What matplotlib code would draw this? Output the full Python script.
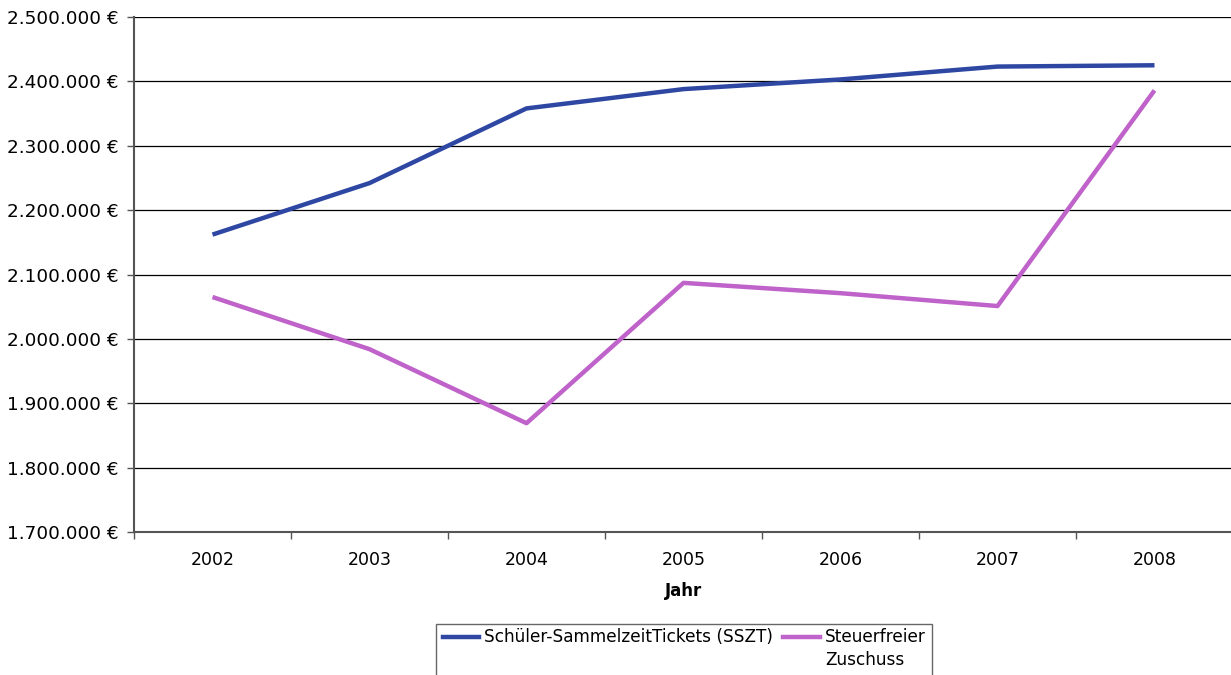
import matplotlib
matplotlib.use("Agg")
import matplotlib.pyplot as plt
from matplotlib.ticker import FuncFormatter, FixedLocator
from matplotlib.patches import Rectangle
from matplotlib.lines import Line2D

# -- Data ---------------------------------------------------------------------
years = ["2002", "2003", "2004", "2005", "2006", "2007", "2008"]
sszt = [2162000, 2242000, 2358000, 2388000, 2403000, 2423000, 2425000]
zuschuss = [2065000, 1984000, 1869000, 2087000, 2071000, 2051000, 2386000]
series_labels = ["Schüler-SammelzeitTickets (SSZT)", "Steuerfreier\nZuschuss"]

BLUE = "#2E47A3"
PINK = "#BF62C9"
W, H = 1231, 675

plt.rcParams["font.family"] = ["DejaVu Sans"]

fig = plt.figure(figsize=(W / 100, H / 100), dpi=100)
ax = fig.add_axes([134 / W, 1 - 532 / H, 1099 / W, 515 / H])

x = list(range(len(years)))
ax.plot(x, sszt, color=BLUE, lw=3.2, solid_capstyle="butt")
ax.plot(x, zuschuss, color=PINK, lw=3.2, solid_capstyle="butt")

ax.set_xlim(-0.5, len(years) - 0.5)
ax.set_ylim(1700000, 2500000)
ax.set_yticks(range(1700000, 2500001, 100000))
ax.yaxis.set_major_formatter(FuncFormatter(lambda v, p: f"{int(v):,} €".replace(",", ".")))

# category labels at centres, tick marks at boundaries
ax.set_xticks(x)
ax.set_xticklabels(years)
ax.tick_params(axis="x", which="major", length=0, pad=14, labelsize=12.5)
ax.xaxis.set_minor_locator(FixedLocator([i - 0.5 for i in range(len(years) + 1)]))
ax.tick_params(axis="x", which="minor", length=5, width=1, color="#555555")
ax.tick_params(axis="y", length=5, width=1, color="#555555", labelsize=13.2, pad=6)

ax.grid(axis="y", color="black", lw=0.9)
ax.set_axisbelow(True)
for side in ["top", "right"]:
    ax.spines[side].set_visible(False)
for side in ["left", "bottom"]:
    ax.spines[side].set_color("#555555")
    ax.spines[side].set_linewidth(1.5)

ax.set_xlabel("Jahr", fontsize=12, fontweight="bold", labelpad=9)

# -- Legend (drawn by hand so the handles line up with the first text line) --
def fx(px):
    return px / W

def fy(py):
    return 1 - py / H

fig.patches.append(Rectangle((fx(436), fy(676)), fx(932) - fx(436), fy(624) - fy(676),
                             transform=fig.transFigure, facecolor="white",
                             edgecolor="#666666", lw=1.0))
entries = [(series_labels[0], BLUE, 443, 479, 484),
           (series_labels[1], PINK, 783, 820, 825)]
for label, color, x0, x1, tx in entries:
    fig.lines.append(Line2D([fx(x0), fx(x1)], [fy(637), fy(637)],
                            transform=fig.transFigure, color=color, lw=3.2))
    fig.text(fx(tx), fy(628), label, ha="left", va="top", fontsize=12.2,
             linespacing=1.35)

fig.savefig("out.png", dpi=100, facecolor="white")
